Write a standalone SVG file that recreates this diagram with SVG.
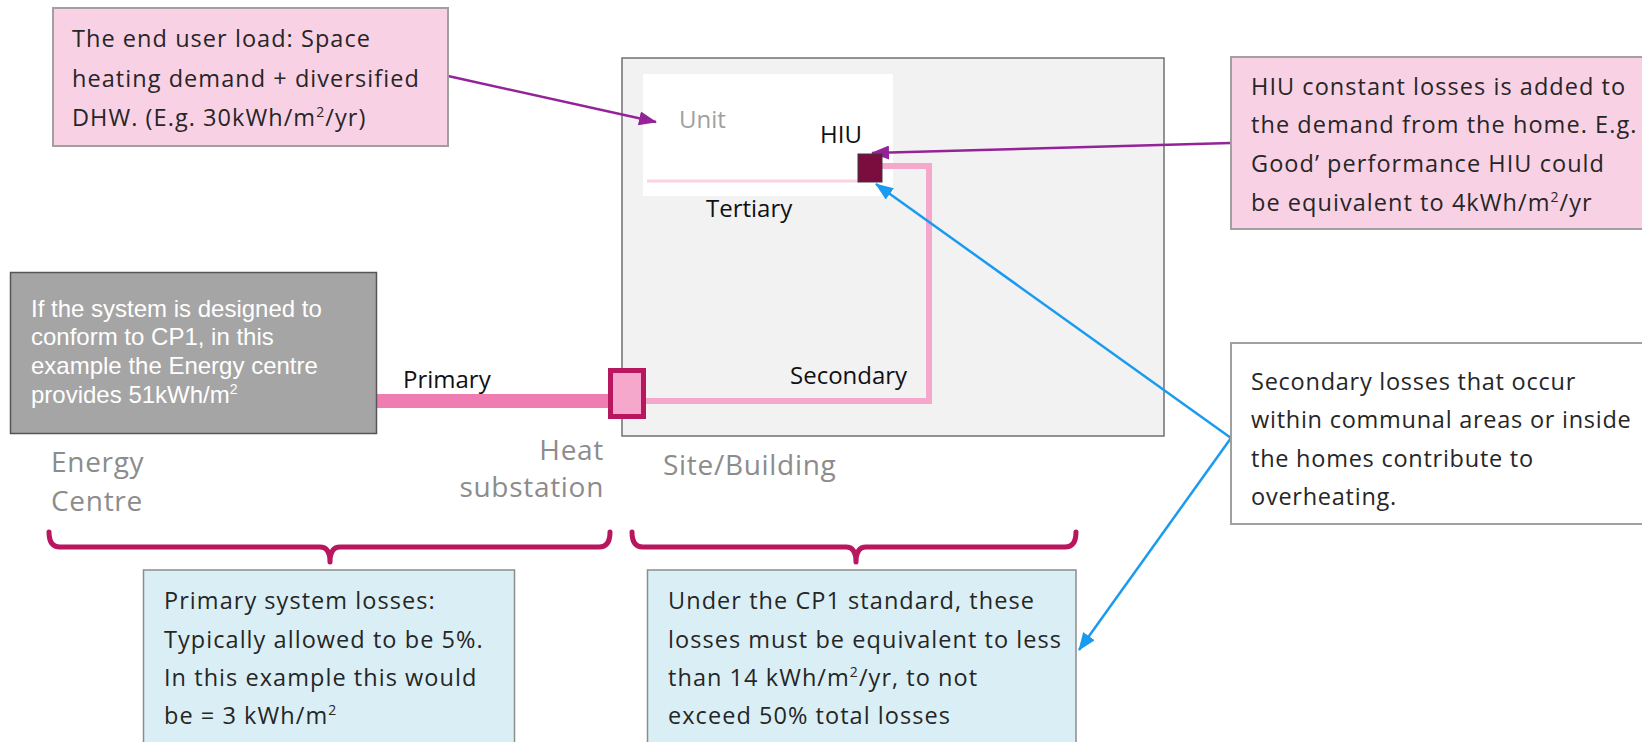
<svg xmlns="http://www.w3.org/2000/svg" width="1642" height="742" viewBox="0 0 1642 742">
<style>
.av{font-family:"Open Sans","Noto Sans",sans-serif;font-size:23.5px;letter-spacing:1.05px;fill:#262626}
.av2{letter-spacing:0.75px}
.cal{font-family:"Liberation Sans",Arial,sans-serif;font-size:24px;fill:#ffffff}
.lbl{font-family:"Open Sans","Noto Sans",sans-serif;font-size:24px;fill:#111}
.big{font-family:"Open Sans","Noto Sans",sans-serif;font-size:28px;letter-spacing:0.7px;fill:#8c8c8c}
.brace{fill:none;stroke:#b8165f;stroke-width:5;stroke-linejoin:round;stroke-linecap:round}
.pa{fill:none;stroke:#94239a;stroke-width:2.5}
.ba{fill:none;stroke:#1a9bf0;stroke-width:2.5}
</style>
<defs>
<marker id="mp" markerUnits="userSpaceOnUse" markerWidth="18" markerHeight="14" refX="17" refY="7" orient="auto"><path d="M0,0 L18,7 L0,14 Z" fill="#94239a"/></marker>
<marker id="mb" markerUnits="userSpaceOnUse" markerWidth="18" markerHeight="14" refX="17" refY="7" orient="auto"><path d="M0,0 L18,7 L0,14 Z" fill="#1a9bf0"/></marker>
</defs>
<rect width="1642" height="742" fill="#ffffff"/>

<g id="site">
<rect x="622" y="58" width="542" height="378" fill="#f2f2f2" stroke="#707070" stroke-width="1.5"/>
<text class="big" x="663" y="475">Site/Building</text>
</g>
<g id="unit">
<rect x="643" y="74" width="250" height="122" fill="#ffffff"/>
<text class="lbl" x="679" y="128" style="fill:#a0a0a0">Unit</text>
</g>

<g id="connectors">
<line x1="647" y1="181" x2="858" y2="181" stroke="#fbd3e5" stroke-width="3"/>
<path d="M882,166 H929 V401 H645" fill="none" stroke="#f5a8cb" stroke-width="6"/>
<path d="M377,401 L609,401" stroke="#f07db2" stroke-width="14" fill="none"/>
<line class="pa" x1="448" y1="76" x2="656" y2="122" marker-end="url(#mp)"/>
<line class="pa" x1="1231" y1="143" x2="872" y2="153" marker-end="url(#mp)"/>
<line class="ba" x1="1231" y1="438" x2="876" y2="184" marker-end="url(#mb)"/>
<line class="ba" x1="1231" y1="438" x2="1079" y2="650" marker-end="url(#mb)"/>
<path class="brace" d="M49,532 Q49,547 60,547 L320,547 Q330,547 330,562 Q330,547 340,547 L599,547 Q610,547 610,532"/>
<path class="brace" d="M632,532 Q632,547 643,547 L846,547 Q856,547 856,562 Q856,547 866,547 L1065,547 Q1076,547 1076,532"/>
</g>

<g id="hiu">
<rect x="858" y="154" width="24" height="28" fill="#7b0d3e" stroke="#3a3a3a" stroke-width="1"/>
<text class="lbl" x="820" y="143">HIU</text>
</g>
<g id="tertiary-label"><text class="lbl" x="706" y="217">Tertiary</text></g>
<g id="secondary-label"><text class="lbl" x="790" y="384">Secondary</text></g>
<g id="primary-label"><text class="lbl" x="403" y="388">Primary</text></g>

<g id="substation">
<rect x="610.5" y="370.5" width="33" height="46" fill="#f5a8cb" stroke="#b8165f" stroke-width="5"/>
<text class="big" text-anchor="end" x="604" y="460">Heat</text>
<text class="big" text-anchor="end" x="604" y="497">substation</text>
</g>

<g id="energy-centre">
<rect x="10.5" y="272.5" width="366" height="161" fill="#a5a5a5" stroke="#555555" stroke-width="1.5"/>
<text class="cal" x="31" y="317">If the system is designed to</text>
<text class="cal" x="31" y="345">conform to CP1, in this</text>
<text class="cal" x="31" y="374">example the Energy centre</text>
<text class="cal" x="31" y="403">provides 51kWh/m<tspan font-size="14" dy="-9">2</tspan></text>
<text class="big" x="51" y="472">Energy</text>
<text class="big" x="51" y="511">Centre</text>
</g>

<g id="end-user-note">
<rect x="53" y="8" width="395" height="138" fill="#f9d1e5" stroke="#a0a0a0" stroke-width="2"/>
<text class="av" x="72" y="47">The end user load: Space</text>
<text class="av" x="72" y="87">heating demand + diversified</text>
<text class="av" x="72" y="126">DHW. (E.g. 30kWh/m<tspan font-size="14" dy="-9">2</tspan><tspan dy="9">/yr)</tspan></text>
</g>

<g id="hiu-note">
<rect x="1231" y="57" width="420" height="172" fill="#f9d1e5" stroke="#a0a0a0" stroke-width="2"/>
<text class="av" x="1251" y="95">HIU constant losses is added to</text>
<text class="av" x="1251" y="133">the demand from the home. E.g.</text>
<text class="av" x="1251" y="172">Good’ performance HIU could</text>
<text class="av" x="1251" y="211">be equivalent to 4kWh/m<tspan font-size="14" dy="-9">2</tspan><tspan dy="9">/yr</tspan></text>
</g>

<g id="secondary-note">
<rect x="1231" y="343" width="420" height="181" fill="#ffffff" stroke="#a0a0a0" stroke-width="2"/>
<text class="av av2" x="1251" y="390">Secondary losses that occur</text>
<text class="av av2" x="1251" y="428">within communal areas or inside</text>
<text class="av av2" x="1251" y="467">the homes contribute to</text>
<text class="av av2" x="1251" y="505">overheating.</text>
</g>

<g id="primary-losses-note">
<rect x="143.5" y="570" width="371" height="180" fill="#daeff5" stroke="#8c8c8c" stroke-width="1.5"/>
<text class="av" x="164" y="609">Primary system losses:</text>
<text class="av" x="164" y="648">Typically allowed to be 5%.</text>
<text class="av" x="164" y="686">In this example this would</text>
<text class="av" x="164" y="724">be = 3 kWh/m<tspan font-size="14" dy="-9">2</tspan></text>
</g>

<g id="cp1-note">
<rect x="647.5" y="570" width="428.5" height="180" fill="#daeff5" stroke="#8c8c8c" stroke-width="1.5"/>
<text class="av" x="668" y="609">Under the CP1 standard, these</text>
<text class="av" x="668" y="648">losses must be equivalent to less</text>
<text class="av" x="668" y="686">than 14 kWh/m<tspan font-size="14" dy="-9">2</tspan><tspan dy="9">/yr, to not</tspan></text>
<text class="av" x="668" y="724">exceed 50% total losses</text>
</g>
</svg>
